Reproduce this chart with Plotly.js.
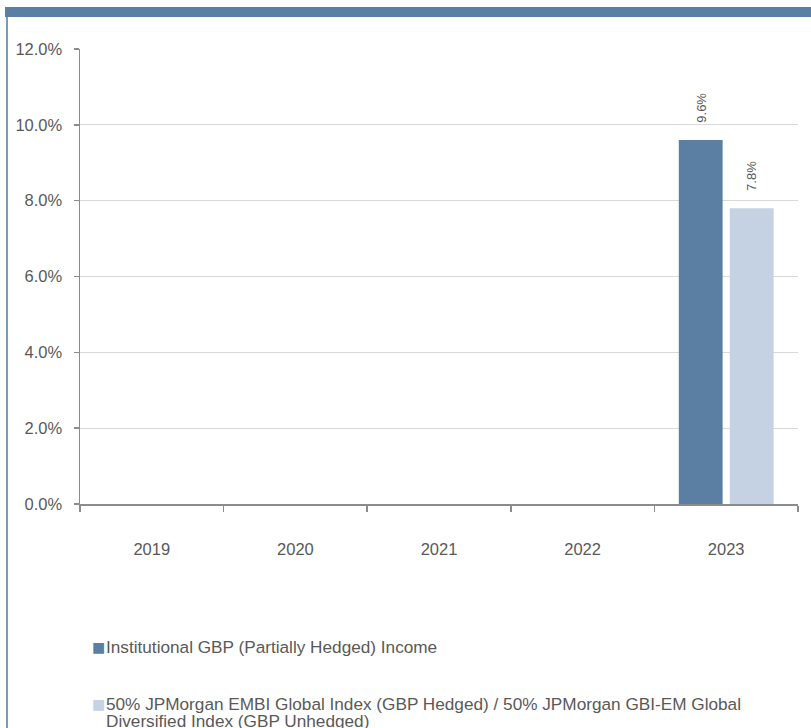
<!DOCTYPE html>
<html>
<head>
<meta charset="utf-8">
<script src="https://cdn.plot.ly/plotly-3.0.1.min.js"></script>
<style>
  html, body { margin: 0; padding: 0; background: #ffffff; }
  #wrap { position: relative; width: 811px; height: 728px; overflow: hidden; }
  #chart { position: absolute; left: 0; top: 0; width: 811px; height: 728px; }
  #band { position: absolute; left: 5px; top: 7px; width: 806px; height: 10px; background: #5b7fa3; }
  #edge { position: absolute; left: 6px; top: 17px; width: 2px; height: 711px; background: #7c9bbb; }
</style>
</head>
<body>
<div id="wrap">
  <div id="chart"></div>
  <div id="band"></div>
  <div id="edge"></div>
</div>
<script>
// ---- data ----
const years = ["2019", "2020", "2021", "2022", "2023"];
const fundValues = [null, null, null, null, 9.6];
const benchValues = [null, null, null, null, 7.8];
const fundName = "Institutional GBP (Partially Hedged) Income";
const benchName = "50% JPMorgan EMBI Global Index (GBP Hedged) / 50% JPMorgan GBI-EM Global<br>Diversified Index (GBP Unhedged)";
const yTicks = [0, 2, 4, 6, 8, 10, 12];

// ---- style ----
const darkBlue = "#5b7fa3";
const lightBlue = "#c5d2e3";
const textGrey = "#595959";
const axisGrey = "#8c8c8c";
const fontFam = "Liberation Sans, Arial, sans-serif";

const W = 811, H = 728;
const margin = {l: 80, r: 13, t: 49, b: 224};
const bargap = 0.29, bargroupgap = 0.14;
const plotW = W - margin.l - margin.r, plotH = H - margin.t - margin.b;
const catWidth = plotW / years.length;
const barOffset = catWidth * (1 - bargap) / 4;

const traces = [
  {type: "bar", name: fundName, x: years, y: fundValues, marker: {color: darkBlue}, hoverinfo: "x+y", showlegend: false},
  {type: "bar", name: benchName, x: years, y: benchValues, marker: {color: lightBlue}, hoverinfo: "x+y", showlegend: false}
];

const annotations = [];
[fundValues, benchValues].forEach(function (vals, si) {
  vals.forEach(function (v, i) {
    if (v === null) return;
    annotations.push({
      x: i, y: v, xref: "x", yref: "y",
      text: v.toFixed(1) + "%", showarrow: false, textangle: -90,
      xanchor: "center", yanchor: "bottom",
      xshift: si === 0 ? -barOffset : barOffset, yshift: 15,
      font: {family: fontFam, size: 13, color: textGrey}
    });
  });
});

// legend (built from names & colours), tight line spacing like the reference
function px2y(py) { return 1 - (py - margin.t) / plotH; }
const legendItems = [
  {name: fundName, color: darkBlue, mid: 647},
  {name: benchName, color: lightBlue, mid: 704}
];
const lineStep = 16.5;
legendItems.forEach(function (it) {
  annotations.push({
    xref: "paper", yref: "paper",
    x: (90 - margin.l) / plotW, y: px2y(it.mid),
    xanchor: "left", yanchor: "middle", showarrow: false,
    text: "■", font: {family: "DejaVu Sans, sans-serif", size: 14, color: it.color}
  });
  it.name.split("<br>").forEach(function (line, li) {
    annotations.push({
      xref: "paper", yref: "paper",
      x: (104 - margin.l) / plotW, y: px2y(it.mid + li * lineStep),
      xanchor: "left", yanchor: "middle", align: "left", showarrow: false,
      text: line, font: {family: fontFam, size: 17.2, color: textGrey}
    });
  });
});

const layout = {
  width: W, height: H,
  margin: margin,
  paper_bgcolor: "#ffffff", plot_bgcolor: "#ffffff",
  font: {family: fontFam, size: 16, color: textGrey},
  barmode: "group", bargap: bargap, bargroupgap: bargroupgap,
  showlegend: false,
  xaxis: {
    type: "category", categoryorder: "array", categoryarray: years,
    range: [-0.5, years.length - 0.5], autorange: false,
    tickmode: "array", tickvals: years, ticktext: years,
    showgrid: false, zeroline: false,
    showline: true, linecolor: axisGrey, linewidth: 1.5,
    ticks: "outside", tickson: "boundaries", ticklen: 6, tickcolor: axisGrey, tickwidth: 1.5,
    tickangle: 0,
    ticklabelstandoff: 30,
    tickfont: {family: fontFam, size: 16.5, color: textGrey}
  },
  yaxis: {
    range: [0, 12], autorange: false,
    tickvals: yTicks, ticktext: yTicks.map(function (t) { return t.toFixed(1) + "%"; }),
    showgrid: true, gridcolor: "#d9d9d9", gridwidth: 1.2,
    zeroline: false,
    showline: true, linecolor: axisGrey, linewidth: 1.5,
    ticks: "outside", ticklen: 5, tickcolor: axisGrey, tickwidth: 1.5,
    ticklabelstandoff: 8,
    tickfont: {family: fontFam, size: 16.5, color: textGrey}
  },
  annotations: annotations
};

Plotly.newPlot("chart", traces, layout, {staticPlot: true, displayModeBar: false});
</script>
</body>
</html>
